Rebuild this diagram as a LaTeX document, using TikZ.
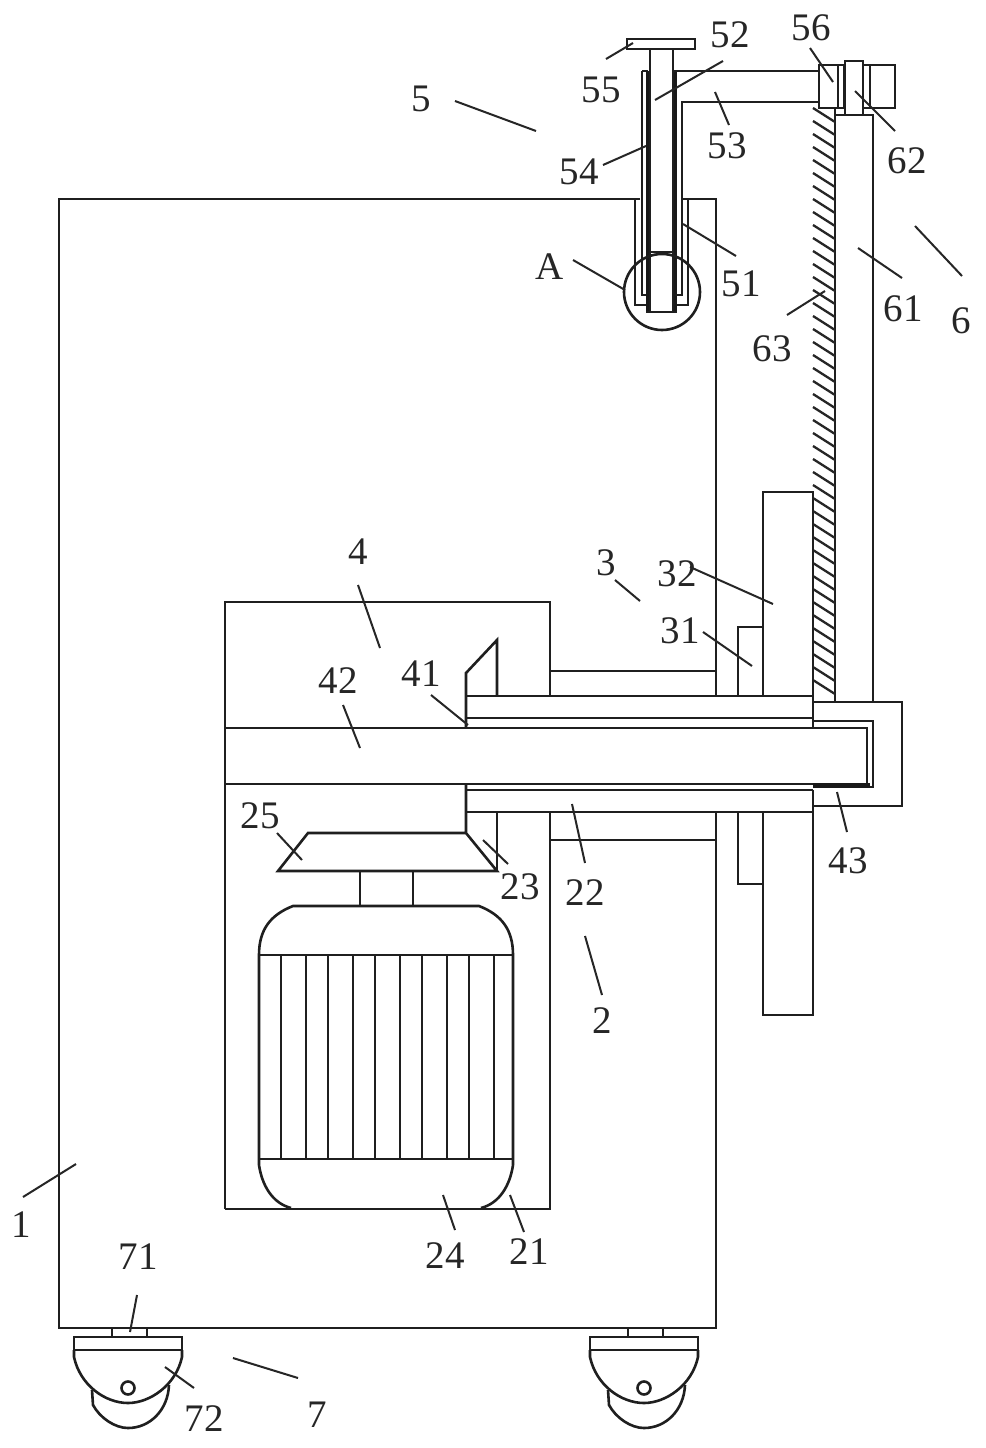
\documentclass[tikz,border=0pt]{standalone}
\usepackage{fontspec}
\setmainfont{Liberation Serif}
\tikzset{
  part/.style={draw=black!88,line width=2.6pt,line join=miter},
  heavy/.style={draw=black!90,line width=4.5pt},
  leader/.style={draw=black!85,line width=2pt},
  lbl/.style={inner sep=0pt,font=\fontsize{39}{39}\selectfont,text=black!85},
}
\newcommand{\callout}[7]{%
  \node[lbl] (n#1) at (#2,#3) {#1};
  \coordinate (a#1) at (#4,#5);
  \coordinate (b#1) at (#6,#7);
  \draw[leader] (a#1) -- (b#1);
}
\begin{document}
\begin{tikzpicture}[x=1pt,y=-1pt]
\useasboundingbox (0,0) rectangle (985,1448);
\fill[white] (0,0) rectangle (985,1448);
% body
\draw[part] (640,199) -- (59,199) -- (59,1328) -- (716,1328) -- (716,812);
\draw[part] (683,199) -- (716,199) -- (716,696);
% upper assembly
\draw[part] (635,199) -- (635,305) -- (648,305);
\draw[part] (677,305) -- (688,305) -- (688,199);
\draw[part] (642,71) -- (642,295) -- (648,295);
\draw[part] (642,71) -- (648,71);
\draw[heavy] (648,71) -- (648,312);
\draw[heavy] (675,71) -- (675,312);
\draw[part] (675,295) -- (682,295) -- (682,102) -- (818,102);
\draw[part] (673,71) -- (818,71);
\draw[part] (650,49) -- (650,312);
\draw[part] (673,49) -- (673,312);
\draw[part] (650,252) -- (673,252);
\draw[part] (646,312) -- (677,312);
\draw[part] (627,39) rectangle (695,49);
\draw[part] (662,292) circle (38);
% coupling
\draw[part] (819,65) rectangle (838,108);
\draw[part] (838,65) -- (844,65) (838,108) -- (844,108) (844,65) -- (844,108);
\draw[part] (845,61) rectangle (863,115);
\draw[part] (863,65) -- (895,65) -- (895,108) -- (863,108);
\draw[part] (870,65) -- (870,108);
% column + hatching
\draw[part] (835,108) -- (835,702);
\draw[part] (835,115) -- (873,115) -- (873,702);
\foreach \yy in {108,121,...,685}{
  \draw[line width=2.3pt,black!85] (813,\yy) -- (835,\yy+14);
}
% box 43
\draw[part] (813,702) -- (902,702) -- (902,806) -- (813,806);
\draw[part] (813,721) -- (873,721) -- (873,787) -- (813,787);
% sleeve and shaft
\draw[part] (466,696) -- (813,696) -- (813,728);
\draw[part] (466,718) -- (813,718);
\draw[part] (466,790) -- (813,790);
\draw[part] (466,812) -- (813,812);
\draw[part] (225,728) -- (867,728) -- (867,784) -- (225,784);
\draw[heavy] (813,785.5) -- (870,785.5);
% box 4 and hopper
\draw[part] (225,1209) -- (225,602) -- (550,602) -- (550,696);
\draw[part] (550,812) -- (550,1209) -- (225,1209);
\draw[part] (466,728) -- (466,673) -- (497,640) -- (497,696);
\draw[part] (550,671) -- (716,671);
\draw[part] (550,840) -- (716,840);
% parts 31, 32
\draw[part] (738,696) -- (738,627) -- (763,627) -- (763,696);
\draw[part] (738,812) -- (738,884) -- (763,884);
\draw[part] (763,696) -- (763,492) -- (813,492) -- (813,696);
\draw[part] (763,812) -- (763,1015) -- (813,1015) -- (813,790);
% cone
\draw[part] (466,784) -- (466,833) -- (308,833) -- (278,871) -- (497,871) -- (466,833);
\draw[part] (497,812) -- (497,871);
\draw[part] (360,871) -- (360,906);
\draw[part] (413,871) -- (413,906);
% motor
\draw[part] (259,955) .. controls (259,930) and (270,915) .. (293,906) -- (479,906) .. controls (502,915) and (513,930) .. (513,955);
\draw[part] (259,955) -- (513,955) (259,1159) -- (513,1159);
\draw[part] (259,955) -- (259,1165) .. controls (262,1185) and (272,1203) .. (291,1208);
\draw[part] (513,955) -- (513,1165) .. controls (510,1185) and (500,1203) .. (481,1208);
\foreach \xx in {281,306,328,353,375,400,422,447,469,494}{
  \draw[part] (\xx,955) -- (\xx,1159);
}
% casters
\foreach \dx in {0,516}{
\begin{scope}[xshift=\dx]
  \draw[part] (112,1328) -- (112,1337) (147,1328) -- (147,1337);
  \draw[part] (74,1337) rectangle (182,1350);
  \draw[part] (74,1350) -- (74,1357) .. controls (80,1385) and (105,1403) .. (128,1403) .. controls (150,1403) and (176,1385) .. (182,1357) -- (182,1350);
  \draw[part] (92,1390) -- (93,1405) .. controls (100,1418) and (115,1428) .. (128,1428) .. controls (150,1428) and (168,1410) .. (169,1385);
  \draw[part] (128,1388) circle (6.5);
\end{scope}
}
% labels and leaders
\callout{5}{421}{99}{455}{101}{536}{131}
\callout{52}{730}{35}{723}{61}{655}{100}
\callout{56}{811}{28}{810}{48}{833}{82}
\callout{55}{601}{90}{606}{59}{633}{43}
\callout{53}{727}{146}{715}{92}{729}{125}
\callout{54}{579}{172}{603}{165}{646}{146}
\callout{62}{907}{161}{855}{91}{895}{131}
\callout{51}{741}{284}{683}{224}{736}{256}
\callout{A}{550}{267}{573}{260}{625}{290}
\callout{61}{903}{309}{858}{248}{902}{278}
\callout{6}{961}{321}{915}{226}{962}{276}
\callout{63}{772}{349}{787}{315}{825}{291}
\callout{3}{606}{563}{615}{580}{640}{601}
\callout{32}{677}{574}{690}{567}{773}{604}
\callout{31}{680}{631}{703}{632}{752}{666}
\callout{4}{358}{552}{358}{585}{380}{648}
\callout{42}{338}{681}{343}{705}{360}{748}
\callout{41}{421}{674}{431}{695}{468}{725}
\callout{25}{260}{816}{277}{833}{302}{860}
\callout{23}{520}{887}{483}{840}{508}{864}
\callout{22}{585}{893}{572}{804}{585}{863}
\callout{43}{848}{861}{837}{792}{847}{832}
\callout{2}{602}{1021}{585}{936}{602}{995}
\callout{1}{21}{1225}{23}{1197}{76}{1164}
\callout{71}{138}{1257}{137}{1295}{130}{1332}
\callout{72}{204}{1419}{165}{1367}{194}{1388}
\callout{24}{445}{1256}{443}{1195}{455}{1230}
\callout{21}{529}{1252}{510}{1195}{524}{1232}
\callout{7}{317}{1415}{233}{1358}{298}{1378}
\end{tikzpicture}
\end{document}
